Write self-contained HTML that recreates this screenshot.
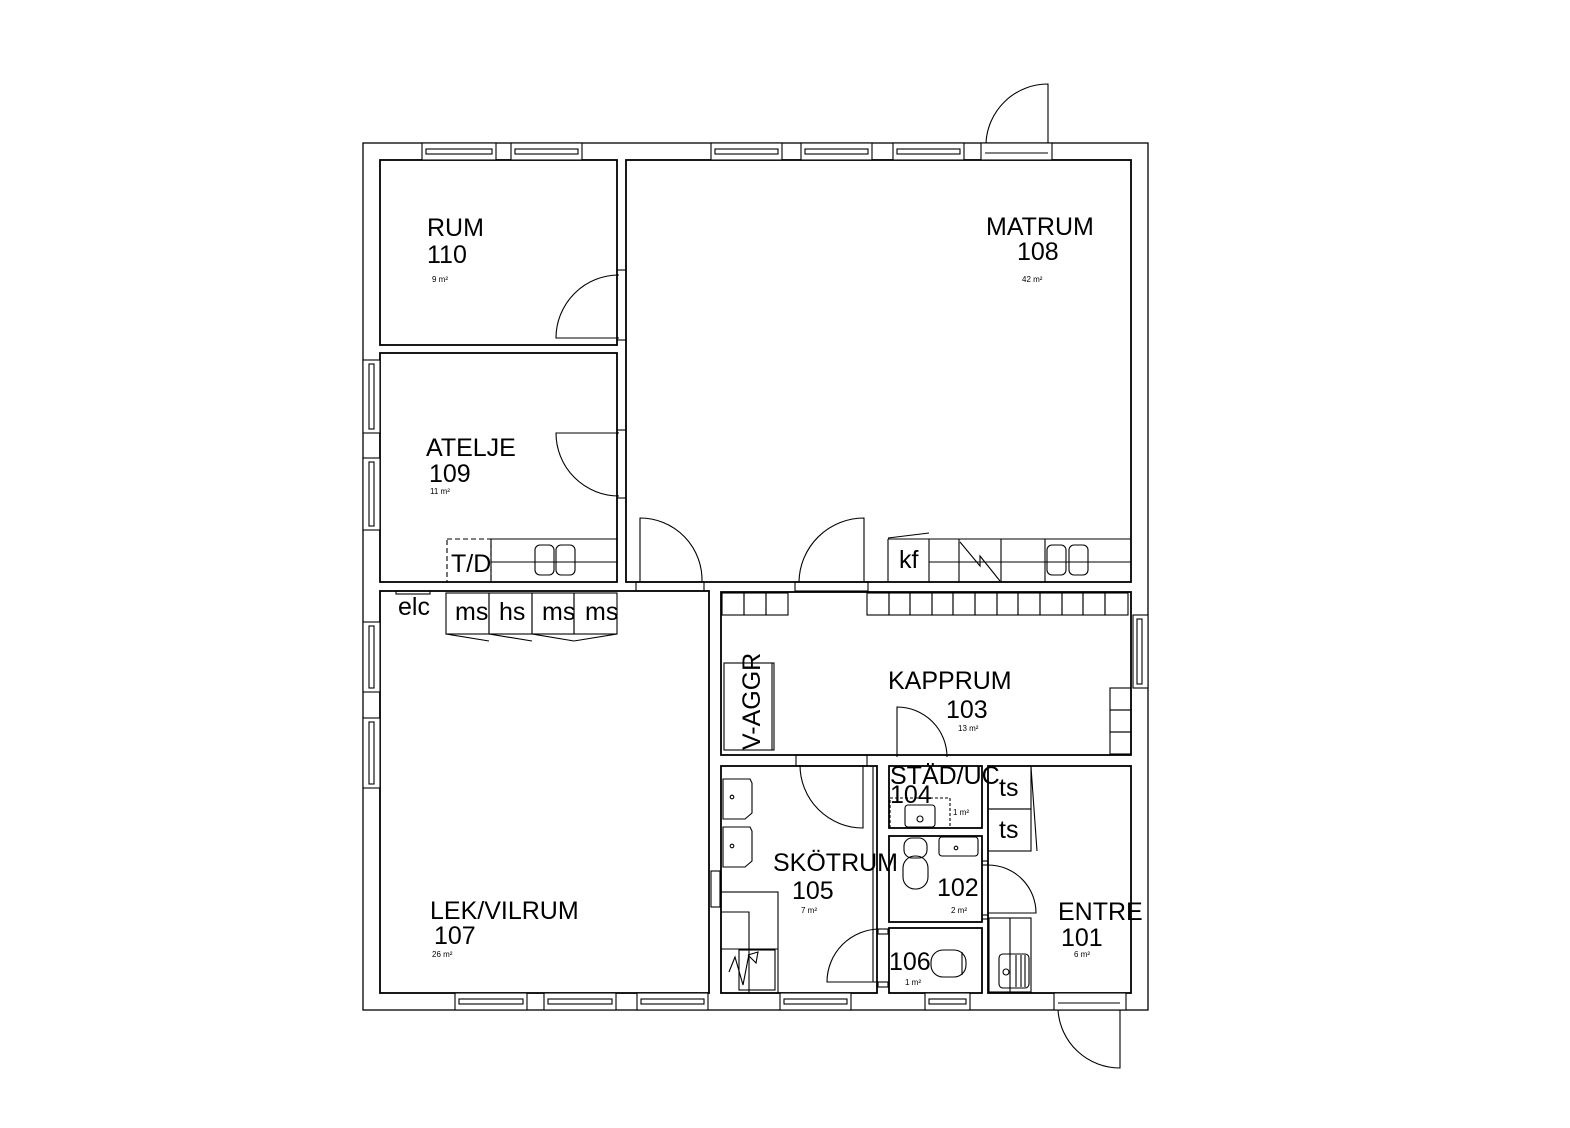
<!DOCTYPE html>
<html><head><meta charset="utf-8"><style>html,body{margin:0;padding:0;background:#fff}svg{display:block}text{font-family:"Liberation Sans",sans-serif;fill:#000}</style></head><body>
<svg width="1570" height="1128" viewBox="0 0 1570 1128" xmlns="http://www.w3.org/2000/svg">
<g fill="none" stroke="#000" stroke-width="1.3">
<rect x="363" y="143" width="785" height="867"/>
<rect x="380" y="160" width="237" height="185" stroke-width="1.8"/>
<rect x="380" y="353" width="237" height="229" stroke-width="1.8"/>
<rect x="626" y="160" width="505" height="422" stroke-width="1.8"/>
<rect x="380" y="591" width="329" height="402" stroke-width="1.8"/>
<rect x="721" y="592" width="410" height="163" stroke-width="1.8"/>
<rect x="721" y="766" width="156" height="227" stroke-width="1.8"/>
<rect x="889" y="766" width="93" height="62" stroke-width="1.8"/>
<rect x="889" y="836" width="93" height="86" stroke-width="1.8"/>
<rect x="889" y="928" width="93" height="65" stroke-width="1.8"/>
<rect x="988" y="766" width="143" height="227" stroke-width="1.8"/>
</g>
<g fill="#fff" stroke="#000" stroke-width="1.1">
<rect x="422" y="143" width="74" height="17"/><rect x="426" y="149" width="66" height="5"/>
<rect x="511" y="143" width="71" height="17"/><rect x="515" y="149" width="63" height="5"/>
<rect x="711" y="143" width="71" height="17"/><rect x="715" y="149" width="63" height="5"/>
<rect x="801" y="143" width="71" height="17"/><rect x="805" y="149" width="63" height="5"/>
<rect x="893" y="143" width="71" height="17"/><rect x="897" y="149" width="63" height="5"/>
<rect x="981" y="143" width="71" height="17"/><line x1="985" y1="153" x2="1048" y2="153"/>
<rect x="363" y="360" width="17" height="73"/><rect x="369" y="364" width="5" height="65"/>
<rect x="363" y="458" width="17" height="72"/><rect x="369" y="462" width="5" height="64"/>
<rect x="363" y="622" width="17" height="70"/><rect x="369" y="626" width="5" height="62"/>
<rect x="363" y="718" width="17" height="70"/><rect x="369" y="722" width="5" height="62"/>
<rect x="455" y="993" width="72" height="17"/><rect x="459" y="999" width="64" height="5"/>
<rect x="544" y="993" width="72" height="17"/><rect x="548" y="999" width="64" height="5"/>
<rect x="637" y="993" width="71" height="17"/><rect x="641" y="999" width="63" height="5"/>
<rect x="780" y="993" width="71" height="17"/><rect x="784" y="999" width="63" height="5"/>
<rect x="925" y="993" width="45" height="17"/><rect x="929" y="999" width="37" height="5"/>
<rect x="1054" y="993" width="72" height="17"/><line x1="1058" y1="1003" x2="1120" y2="1003"/>
<rect x="1133" y="615" width="15" height="73"/><rect x="1137" y="619" width="5" height="65"/>
<rect x="711" y="871" width="9" height="36"/>
</g>
<g fill="none" stroke="#000" stroke-width="1.1">
<path d="M619 338 H556 A63 63 0 0 1 619 275"/>
<path d="M619 433 H556 A63 63 0 0 0 619 496"/>
<path d="M640 582 V518 A62 62 0 0 1 702 582"/>
<path d="M864 582 V518 A65 65 0 0 0 799 582"/>
<path d="M1048 143 V84 A62 62 0 0 0 986 143"/>
<path d="M897 757 V707 A50 50 0 0 1 947 757"/>
<path d="M863 765 V828 A63 63 0 0 1 800 765"/>
<path d="M880 982 H827 A53 53 0 0 1 880 929"/>
<path d="M988 913 H1036 A48 48 0 0 0 988 865"/>
<path d="M1120 1010 V1068 A62 62 0 0 1 1058 1010"/>
<line x1="617" y1="270" x2="626" y2="270"/><line x1="617" y1="340" x2="626" y2="340"/>
<line x1="617" y1="430" x2="626" y2="430"/><line x1="617" y1="498" x2="626" y2="498"/>
<rect x="636" y="582" width="68" height="9"/><rect x="795" y="582" width="73" height="9"/>
<rect x="796" y="755" width="71" height="11"/>
</g>
<g fill="none" stroke="#000" stroke-width="1.1">
<rect x="447" y="539" width="44" height="43" stroke-dasharray="5,3"/>
<line x1="491" y1="539" x2="617" y2="539"/><line x1="491" y1="539" x2="491" y2="582"/>
<line x1="491" y1="562" x2="617" y2="562"/>
<rect x="535" y="545" width="19" height="30" rx="5"/><rect x="556" y="545" width="19" height="30" rx="5"/>
<line x1="888" y1="539" x2="1131" y2="539"/><line x1="888" y1="539" x2="888" y2="582"/>
<line x1="929" y1="539" x2="929" y2="582"/><line x1="959" y1="539" x2="959" y2="582"/>
<line x1="1001" y1="539" x2="1001" y2="582"/><line x1="1045" y1="539" x2="1045" y2="582"/>
<line x1="929" y1="562" x2="1131" y2="562"/>
<path d="M888 538 L929 533"/>
<path d="M960 542 L980 566 L980 556 L1000 581"/>
<rect x="1047" y="545" width="19" height="30" rx="5"/><rect x="1069" y="545" width="19" height="30" rx="5"/>
<rect x="446" y="593" width="43" height="41"/><rect x="489" y="593" width="43" height="41"/>
<rect x="532" y="593" width="42" height="41"/><rect x="574" y="593" width="43" height="41"/>
<path d="M446 634 L489 641 M489 634 L532 641 M532 634 L574 641 L617 634"/>
<rect x="396" y="591" width="34" height="3"/>
<rect x="722" y="593" width="22" height="22"/><rect x="744" y="593" width="22" height="22"/><rect x="766" y="593" width="22" height="22"/>
<rect x="867" y="593" width="22" height="22"/><rect x="889" y="593" width="21" height="22"/><rect x="910" y="593" width="22" height="22"/>
<rect x="932" y="593" width="21" height="22"/><rect x="953" y="593" width="22" height="22"/><rect x="975" y="593" width="22" height="22"/>
<rect x="997" y="593" width="21" height="22"/><rect x="1018" y="593" width="22" height="22"/><rect x="1040" y="593" width="22" height="22"/>
<rect x="1062" y="593" width="21" height="22"/><rect x="1083" y="593" width="22" height="22"/><rect x="1105" y="593" width="23" height="22"/>
<rect x="1110" y="688" width="21" height="22"/><rect x="1110" y="710" width="21" height="22"/><rect x="1110" y="732" width="21" height="22"/>
<rect x="724" y="663" width="50" height="87"/><line x1="772" y1="663" x2="772" y2="750"/>
<path d="M723 779 H750 L752 783 V813 L745 819 H723 Z"/><circle cx="732" cy="797" r="1.8"/>
<path d="M723 827 H750 L752 831 V861 L745 867 H723 Z"/><circle cx="732" cy="846" r="1.8"/>
<rect x="721" y="892" width="57" height="101"/><rect x="739" y="950" width="36" height="40"/>
<line x1="721" y1="949" x2="778" y2="949"/><path d="M721 912 H749 V993"/>
<path d="M729 972 L735 957 L743 985 L749 954 M748 955 L756 963 L758 952 L748 955"/>
<line x1="873" y1="767" x2="873" y2="982"/>
<rect x="890" y="798" width="60" height="30" stroke-dasharray="3,2"/>
<rect x="905" y="805" width="30" height="22" rx="3"/><circle cx="920" cy="819" r="3"/>
<rect x="904" y="838" width="23" height="20" rx="8"/><rect x="903" y="856" width="25" height="33" rx="12"/>
<rect x="939" y="837" width="39" height="19" rx="3"/><circle cx="956" cy="848" r="1.8"/>
<rect x="982" y="861" width="6" height="4"/><rect x="982" y="915" width="6" height="4"/>
<rect x="931" y="950" width="35" height="27" rx="12"/><line x1="962" y1="952" x2="962" y2="975"/>
<rect x="878" y="929" width="10" height="5"/><rect x="878" y="982" width="10" height="5"/>
<rect x="988" y="766" width="43" height="43"/><rect x="988" y="809" width="43" height="42"/>
<path d="M1031 767 L1037 851"/>
<rect x="989" y="918" width="42" height="74"/><line x1="1010" y1="918" x2="1010" y2="992"/>
<rect x="999" y="954" width="30" height="34" rx="4"/><circle cx="1006" cy="972" r="3"/>
<line x1="1016" y1="955" x2="1016" y2="987"/><line x1="1021" y1="955" x2="1021" y2="987"/><line x1="1025" y1="955" x2="1025" y2="987"/>
</g>
<g font-size="25">
<text x="427" y="236">RUM</text><text x="427" y="263">110</text>
<text x="426" y="456">ATELJE</text><text x="429" y="482">109</text>
<text x="986" y="235">MATRUM</text><text x="1017" y="260">108</text>
<text x="888" y="689">KAPPRUM</text><text x="946" y="718">103</text>
<text x="430" y="919">LEK/VILRUM</text><text x="434" y="944">107</text>
<text x="773" y="871">SKÖTRUM</text><text x="792" y="899">105</text>
<text x="890" y="784">STÄD/UC</text><text x="890" y="803">104</text>
<text x="937" y="896">102</text>
<text x="889" y="970">106</text>
<text x="1058" y="920">ENTRE</text><text x="1061" y="946">101</text>
<text x="451" y="572">T/D</text>
<text x="899" y="568">kf</text>
<text x="398" y="615">elc</text>
<text x="455" y="620">ms</text><text x="499" y="620">hs</text><text x="542" y="620">ms</text><text x="585" y="620">ms</text>
<text x="999" y="796">ts</text><text x="999" y="838">ts</text>
<text transform="translate(760 750) rotate(-90)">V-AGGR</text>
</g>
<g font-size="8">
<text x="432" y="282">9 m²</text><text x="430" y="494">11 m²</text><text x="1022" y="282">42 m²</text>
<text x="958" y="731">13 m²</text><text x="432" y="957">26 m²</text><text x="801" y="913">7 m²</text>
<text x="953" y="815">1 m²</text><text x="951" y="913">2 m²</text><text x="905" y="985">1 m²</text><text x="1074" y="957">6 m²</text>
</g>
</svg>
</body></html>
